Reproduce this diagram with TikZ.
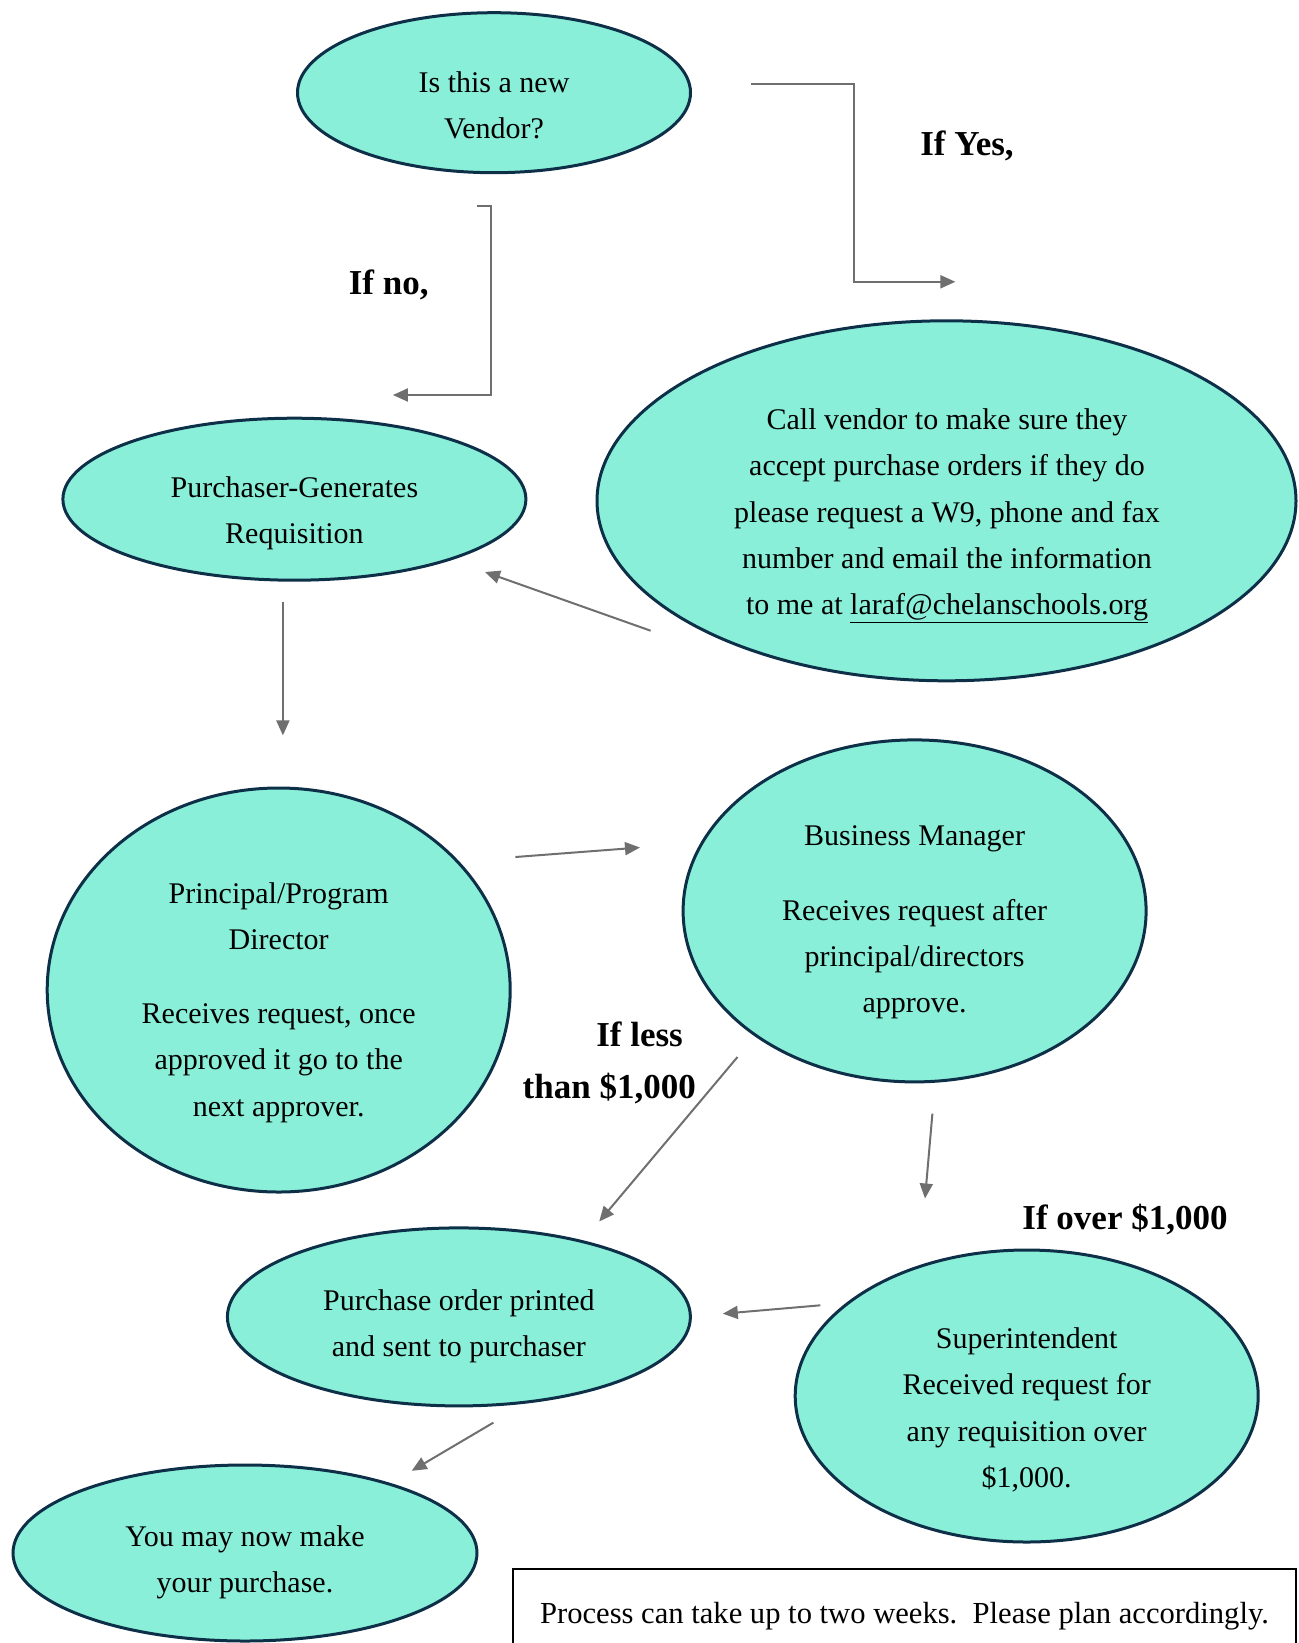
\documentclass[tikz,border=0pt]{standalone}
\usepackage{fontspec}
\setmainfont{Liberation Serif}
\usetikzlibrary{arrows.meta,shapes.geometric}
\definecolor{ellfill}{HTML}{8AEFD9}
\definecolor{elldraw}{HTML}{0D3048}
\definecolor{arrgray}{HTML}{6F6F6F}
\tikzset{
  ell/.style={ellipse,draw=elldraw,fill=ellfill,line width=3pt,inner sep=0pt},
  txt/.style={align=center,font=\fontsize{30}{46.3}\selectfont,inner sep=0pt},
  lbl/.style={font=\fontsize{35}{52}\selectfont\bfseries,inner sep=0pt},
  arr/.style={draw=arrgray,line width=2pt,-{Triangle[length=15pt,width=13pt]},arrgray}
}
\begin{document}
\begin{tikzpicture}[x=1pt,y=-1pt]
\useasboundingbox (0,0) rectangle (1298,1643);
% ellipses
\node[ell,minimum width=393pt,minimum height=160pt] (v) at (494,92.7) {};
\node[txt] (vt) at (494,105) {Is this a new\\Vendor?};
\node[ell,minimum width=463pt,minimum height=162pt] (p) at (294.4,499.2) {};
\node[txt] (pt) at (294.4,513.5) {Purchaser-Generates\\Requisition};
\node[ell,minimum width=699pt,minimum height=360pt] (c) at (946.5,500.8) {};
\node[txt] (ct) at (947,516) {Call vendor to make sure they\\accept purchase orders if they do\\please request a W9, phone and fax\\number and email the information\\to me at \underline{laraf@chelanschools.org}};
\node[ell,minimum width=463pt,minimum height=404pt] (d) at (278.7,990) {};
\node[txt] (dt1) at (278.7,916) {Principal/Program\\Director};
\node[txt] (dt2) at (278.7,1063) {Receives request, once\\approved it go to the\\next approver.};
\node[ell,minimum width=463pt,minimum height=342pt] (b) at (914.6,910.9) {};
\node[txt] (bt1) at (914.6,839) {Business Manager};
\node[txt] (bt2) at (914.6,959) {Receives request after\\principal/directors\\approve.};
\node[ell,minimum width=463pt,minimum height=178pt] (o) at (458.9,1316.9) {};
\node[txt] (ot) at (458.9,1326) {Purchase order printed\\and sent to purchaser};
\node[ell,minimum width=463pt,minimum height=292pt] (s) at (1026.7,1396) {};
\node[txt] (st) at (1026.7,1410) {Superintendent\\Received request for\\any requisition over\\\$1,000.};
\node[ell,minimum width=464pt,minimum height=176pt] (y) at (245,1553) {};
\node[txt] (yt) at (245,1562.5) {You may now make\\your purchase.};
% labels
\node[lbl] (ly) at (967,145.5) {If Yes,};
\node[lbl] (ln) at (388.7,284.5) {If no,};
\node[lbl,anchor=east] (ll1) at (683,1034) {If less};
\node[lbl,anchor=east] (ll2) at (696,1089) {than \$1,000};
\node[lbl] (lo) at (1125,1220) {If over \$1,000};
% connector endpoints
\coordinate (y0) at (751,83.8);
\coordinate (y1) at (955.4,281.8);
\coordinate (n0) at (476.7,206.4);
\coordinate (n1) at (392.9,395);
\coordinate (a0) at (650.6,630.7);
\coordinate (a1) at (485,572);
\coordinate (b0) at (282.9,602.4);
\coordinate (b1) at (282.9,735.4);
\coordinate (e0) at (515.4,857);
\coordinate (e1) at (640,847.5);
\coordinate (f0) at (737.5,1057);
\coordinate (f1) at (599.2,1221.5);
\coordinate (g0) at (932.4,1113.6);
\coordinate (g1) at (925,1198.5);
\coordinate (h0) at (820.3,1305.3);
\coordinate (h1) at (722.8,1313.7);
\coordinate (k0) at (493.4,1422.6);
\coordinate (k1) at (411.7,1470.8);
\draw[arr] (y0) -- (853.8,83.8) -- (853.8,281.8) -- (y1);
\draw[arr] (n0) -- (491.3,206.4) -- (491.3,395) -- (n1);
\draw[arr] (a0) -- (a1);
\draw[arr] (b0) -- (b1);
\draw[arr] (e0) -- (e1);
\draw[arr] (f0) -- (f1);
\draw[arr] (g0) -- (g1);
\draw[arr] (h0) -- (h1);
\draw[arr] (k0) -- (k1);
% note box
\draw[line width=2pt,black] (513,1569) rectangle (1296,1660);
\node[txt,font=\fontsize{30.6}{46.3}\selectfont] (note) at (904.5,1616) {Process can take up to two weeks.\ \ Please plan accordingly.};
\end{tikzpicture}
\end{document}
